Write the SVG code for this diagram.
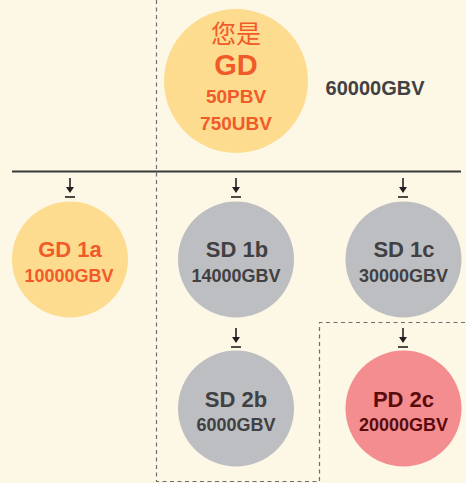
<svg xmlns="http://www.w3.org/2000/svg" width="466" height="483" viewBox="0 0 466 483">
<defs>
<style>
.bg{fill:#fdf7e6}
.yel{fill:#fddc8f}
.gry{fill:#bdbec1}
.pnk{fill:#f38d90}
text{font-family:"Liberation Sans","Noto Sans CJK SC",sans-serif;font-weight:bold;text-anchor:middle}
.or{fill:#f15a29}
.dk{fill:#414042}
.dr{fill:#5c0b0b}
.dash{fill:none;stroke:#6d6e70;stroke-width:1.2;stroke-dasharray:4 3.5}
.arr{stroke:#231f20;stroke-width:1.6;fill:none}
.ah{fill:#231f20}
</style>
<g id="arrow">
<line class="arr" x1="0" y1="0" x2="0" y2="12"/>
<polygon class="ah" points="-4,9 4,9 0,15"/>
<line class="arr" x1="-5" y1="19" x2="5" y2="19"/>
</g>
</defs>
<rect class="bg" x="0" y="0" width="466" height="483"/>
<g id="connectors">
<path class="dash" d="M156.5,0 V481.5 H319.5 V322.5 H466"/>
<line x1="12" y1="171.5" x2="461" y2="171.5" stroke="#3a3a3a" stroke-width="2"/>
<use href="#arrow" x="70" y="178"/>
<use href="#arrow" x="236" y="178"/>
<use href="#arrow" x="403" y="178"/>
<use href="#arrow" x="236" y="328"/>
<use href="#arrow" x="403" y="328"/>
</g>
<g id="gd">
<circle class="yel" cx="236" cy="81" r="72"/>
<text class="or" x="236" y="43" font-size="25" font-weight="normal" style="font-weight:normal">您是</text>
<text class="or" x="236" y="75" font-size="29">GD</text>
<text class="or" x="236" y="103" font-size="19">50PBV</text>
<text class="or" x="236" y="130" font-size="19">750UBV</text>
</g>
<g id="total">
<text class="dk" x="375" y="95" font-size="20">60000GBV</text>
</g>
<g id="gd1a">
<circle class="yel" cx="70" cy="259.5" r="58"/>
<text class="or" x="70" y="257" font-size="22">GD 1a</text>
<text class="or" x="69" y="282" font-size="18">10000GBV</text>
</g>
<g id="sd1b">
<circle class="gry" cx="236" cy="259.5" r="58"/>
<text class="dk" x="237" y="257" font-size="22">SD 1b</text>
<text class="dk" x="236" y="282" font-size="18">14000GBV</text>
</g>
<g id="sd1c">
<circle class="gry" cx="403.5" cy="259.5" r="58"/>
<text class="dk" x="404" y="257" font-size="22">SD 1c</text>
<text class="dk" x="403.5" y="282" font-size="18">30000GBV</text>
</g>
<g id="sd2b">
<circle class="gry" cx="236" cy="408.5" r="58"/>
<text class="dk" x="236" y="407" font-size="22">SD 2b</text>
<text class="dk" x="236" y="431" font-size="18">6000GBV</text>
</g>
<g id="pd2c">
<circle class="pnk" cx="403.5" cy="408.5" r="58"/>
<text class="dr" x="403.5" y="407" font-size="22">PD 2c</text>
<text class="dr" x="403.5" y="431" font-size="18">20000GBV</text>
</g>
</svg>
